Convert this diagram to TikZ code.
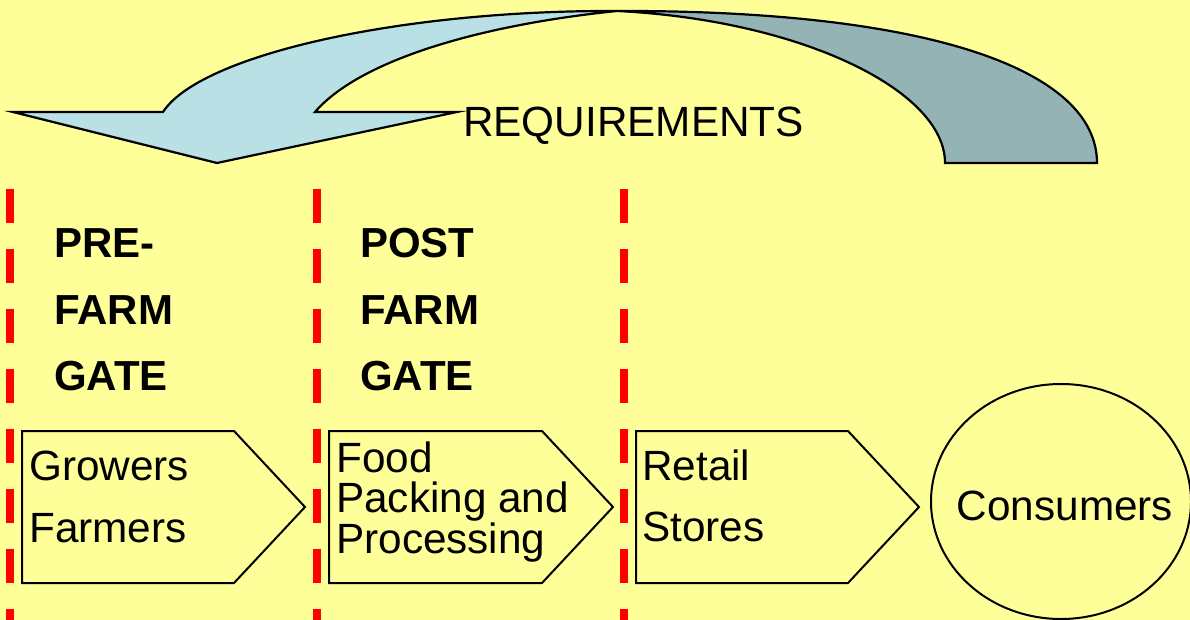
\documentclass[tikz,border=0pt]{standalone}
\usepackage{fontspec}
\setmainfont{Liberation Sans}
\definecolor{bgyellow}{HTML}{FFFF99}
\definecolor{arrowblue}{HTML}{B9E0E5}
\definecolor{arrowgrey}{HTML}{94B3B5}
\definecolor{gatered}{HTML}{FF0000}
\begin{document}
\begin{tikzpicture}[x=1pt,y=-1pt,
  txt/.style={inner sep=0pt,anchor=base west,font=\fontsize{42.3}{42.3}\selectfont},
  btxt/.style={txt,font=\fontsize{42}{42}\selectfont\bfseries},
  gateline/.style={draw=gatered,line width=8pt,dash pattern=on 34pt off 26pt},
  stagebox/.style={draw=black,line width=2pt,line join=miter},
  ribbon/.style={draw=black,line width=2.2pt,line join=miter}]
\fill[bgyellow] (0,0) rectangle (1190,620);
\useasboundingbox (0,0) rectangle (1190,620);

% curved requirements arrow
\coordinate (cross) at (617,11);
\fill[arrowgrey] (cross) .. controls (930,10) and (1097,70) .. (1097,163) -- (945,163) .. controls (945,90) and (800,20) .. (cross) -- cycle;
\draw[ribbon] (cross) .. controls (930,10) and (1097,70) .. (1097,163) -- (945,163) .. controls (945,90) and (800,20) .. (cross);
\fill[arrowblue] (13,112) -- (163,112) .. controls (200,55) and (400,10) .. (cross) .. controls (480,25) and (360,60) .. (315,112) -- (457,112) -- (217,163) -- cycle;
\draw[ribbon] (13,112) -- (163,112) .. controls (200,55) and (400,10) .. (cross) .. controls (480,25) and (360,60) .. (315,112) -- (457,112) -- (217,163) -- cycle;
\node[txt] (req) at (463,137) {REQUIREMENTS};

% gate lines
\coordinate (g1t) at (9.5,189); \coordinate (g1b) at (9.5,620);
\coordinate (g2t) at (317,189); \coordinate (g2b) at (317,620);
\coordinate (g3t) at (624,189); \coordinate (g3b) at (624,620);
\draw[gateline] (g1t) -- (g1b);
\draw[gateline] (g2t) -- (g2b);
\draw[gateline] (g3t) -- (g3b);

% gate labels
\node[btxt] (pre1) at (54,257) {PRE-};
\node[btxt] (pre2) at (54,324) {FARM};
\node[btxt] (pre3) at (54,390) {GATE};
\node[btxt] (post1) at (360,257) {POST};
\node[btxt] (post2) at (360,324) {FARM};
\node[btxt] (post3) at (360,390) {GATE};

% stage boxes
\draw[stagebox] (22,431) -- (234,431) -- (305,507) -- (234,583) -- (22,583) -- cycle;
\node[txt] (grow) at (29,480) {Growers};
\node[txt] (farm) at (29,542) {Farmers};

\draw[stagebox] (329,431) -- (542,431) -- (613,507) -- (542,583) -- (329,583) -- cycle;
\node[txt] (food) at (336,472) {Food};
\node[txt] (pack) at (336,512) {Packing and};
\node[txt] (proc) at (336,553) {Processing};

\draw[stagebox] (636,431) -- (848,431) -- (919,507) -- (848,583) -- (636,583) -- cycle;
\node[txt] (retail) at (642,480) {Retail};
\node[txt] (stores) at (642,541) {Stores};

\draw[stagebox] (1061,501.5) ellipse [x radius=130, y radius=117.5];
\node[txt,anchor=base] (cons) at (1065,520) {Consumers};
\end{tikzpicture}
\end{document}
